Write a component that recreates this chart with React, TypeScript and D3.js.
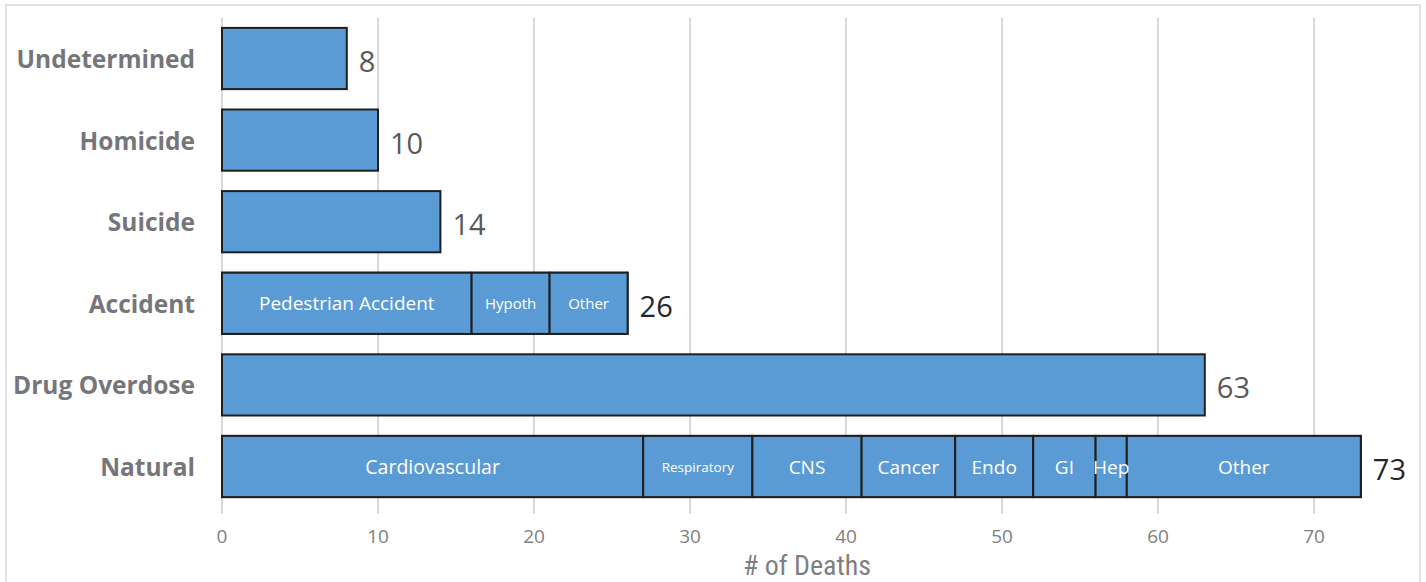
import * as d3 from "d3";

const WIDTH = 1426;
const HEIGHT = 582;

const CATEGORIES = ["Undetermined", "Homicide", "Suicide", "Accident", "Drug Overdose", "Natural"];
const TOTALS = [8, 10, 14, 26, 63, 73];
// totals drawn in a darker grey in the source
const DARK_TOTALS = ["Accident", "Natural"];

const ACCIDENT_PARTS = ["Pedestrian Accident", "Hypoth", "Other"];
const ACCIDENT_VALUES = [16, 5, 5];
const ACCIDENT_SIZES = [19, 15, 15];

const NATURAL_PARTS = ["Cardiovascular", "Respiratory", "CNS", "Cancer", "Endo", "GI", "Hep", "Other"];
const NATURAL_VALUES = [27, 7, 7, 6, 5, 4, 2, 15];
const NATURAL_SIZES = [19.5, 13.5, 19, 19, 19, 19, 19, 19];

const X_TICKS = [0, 10, 20, 30, 40, 50, 60, 70];

const BAR_FILL = "#5b9bd5";
const BAR_STROKE = "#1f1f1f";
const GRID = "#d9d9d9";
const CAT_GREY = "#76767a";
const VALUE_GREY = "#595959";
const SANS = "'Open Sans', 'Noto Sans', sans-serif";
const NARROW = "'Liberation Sans Narrow', 'Roboto Condensed', Roboto, sans-serif";

type Seg = { cat: string; name: string; x0: number; x1: number; size: number };

function stackParts(cat: string, names: string[], values: number[], sizes: number[]): Seg[] {
  let acc = 0;
  return names.map((name, i) => {
    const x0 = acc;
    acc += values[i];
    return { cat, name, x0, x1: acc, size: sizes[i] };
  });
}

export default function App() {
  const x = d3.scaleLinear().domain([0, 73]).range([222, 1360.8]);
  const y = d3.scaleBand<string>().domain(CATEGORIES).range([17.7, 507.3]).paddingInner(0.25).paddingOuter(0.125);

  const segments: Seg[] = [
    ...stackParts("Accident", ACCIDENT_PARTS, ACCIDENT_VALUES, ACCIDENT_SIZES),
    ...stackParts("Natural", NATURAL_PARTS, NATURAL_VALUES, NATURAL_SIZES),
  ];

  const gridTop = 18;
  const gridBottom = 514;

  return (
    <svg width={WIDTH} height={HEIGHT} style={{ position: "absolute", left: 0, top: 0 }}>
      <rect x={0} y={0} width={WIDTH} height={HEIGHT} fill="#ffffff" />
      <rect x={6} y={5} width={1414} height={640} fill="none" stroke="#d9d9d9" strokeWidth={1.5} />

      {X_TICKS.map((t) => (
        <line key={`g${t}`} x1={x(t)} x2={x(t)} y1={gridTop} y2={gridBottom} stroke={GRID} strokeWidth={2} />
      ))}

      {CATEGORIES.map((c, i) => (
        <rect
          key={c}
          x={x(0)}
          y={y(c)}
          width={x(TOTALS[i]) - x(0)}
          height={y.bandwidth()}
          fill={BAR_FILL}
          stroke={BAR_STROKE}
          strokeWidth={2}
        />
      ))}

      {/* segment boxes first, labels on top so "Hep" can spill over its border */}
      {segments.map((s) => (
        <rect
          key={`r-${s.cat}-${s.name}`}
          x={x(s.x0)}
          y={y(s.cat)}
          width={x(s.x1) - x(s.x0)}
          height={y.bandwidth()}
          fill={BAR_FILL}
          stroke={BAR_STROKE}
          strokeWidth={2}
        />
      ))}
      {segments.map((s) => (
        <text
          key={`s-${s.cat}-${s.name}`}
          x={(x(s.x0) + x(s.x1)) / 2}
          y={(y(s.cat) ?? 0) + y.bandwidth() / 2}
          textAnchor="middle"
          dominantBaseline="central"
          fontFamily={SANS}
          fontSize={s.size}
          fill="#ffffff"
        >
          {s.name}
        </text>
      ))}

      {CATEGORIES.map((c, i) => (
        <text
          key={`v${c}`}
          x={x(TOTALS[i]) + 12}
          y={(y(c) ?? 0) + y.bandwidth() / 2 + 2}
          dominantBaseline="central"
          fontFamily={SANS}
          fontSize={29}
          fill={DARK_TOTALS.includes(c) ? "#262626" : VALUE_GREY}
        >
          {TOTALS[i]}
        </text>
      ))}

      {CATEGORIES.map((c) => (
        <text
          key={`l${c}`}
          x={195}
          y={(y(c) ?? 0) + y.bandwidth() / 2}
          textAnchor="end"
          dominantBaseline="central"
          fontFamily={SANS}
          fontWeight={700}
          fontSize={24.5}
          fill={CAT_GREY}
        >
          {c}
        </text>
      ))}

      {X_TICKS.map((t) => (
        <text
          key={`t${t}`}
          x={x(t)}
          y={543}
          textAnchor="middle"
          fontFamily={SANS}
          fontSize={19}
          fill="#7f7f7f"
        >
          {t}
        </text>
      ))}

      <text x={807} y={575} textAnchor="middle" fontFamily={NARROW} fontSize={28} fill="#7f7f7f">
        # of Deaths
      </text>
    </svg>
  );
}
